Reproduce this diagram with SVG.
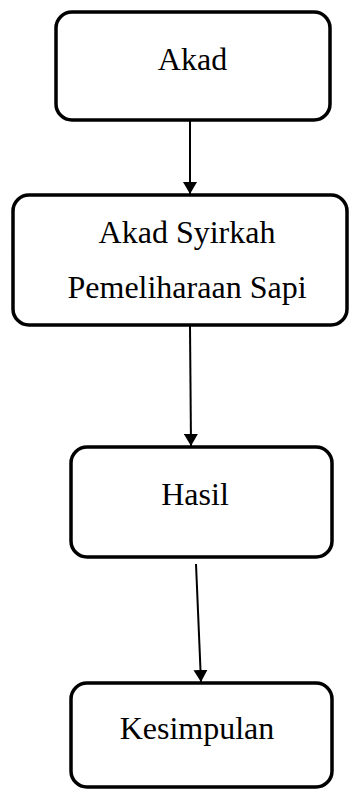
<svg xmlns="http://www.w3.org/2000/svg" width="349" height="789" viewBox="0 0 349 789">
<style>
.box{fill:#fff;stroke:#000;stroke-width:3.5}
.lbl{font-family:"Liberation Serif","Times New Roman",serif;font-size:32px;fill:#000;text-anchor:middle}
.edge{stroke:#000;stroke-width:2;fill:none}
</style>
<defs>
<marker id="ah" markerWidth="12" markerHeight="14" refX="12" refY="7" orient="auto" markerUnits="userSpaceOnUse" viewBox="0 0 12 14">
<path d="M0,0 L12,7 L0,14 Z" fill="#000"/>
</marker>
</defs>
<g id="connectors">
<line class="edge" x1="190" y1="121" x2="190" y2="194" marker-end="url(#ah)"/>
<line class="edge" x1="190" y1="326" x2="191" y2="446" marker-end="url(#ah)"/>
<line class="edge" x1="196" y1="564" x2="201" y2="682" marker-end="url(#ah)"/>
</g>
<g id="node-akad">
<rect class="box" x="56" y="12" width="274" height="108" rx="16"/>
<text class="lbl" x="192.5" y="70">Akad</text>
</g>
<g id="node-syirkah">
<rect class="box" x="13" y="195" width="334" height="130" rx="16"/>
<text class="lbl" x="187" y="243">Akad Syirkah</text>
<text class="lbl" x="187" y="298">Pemeliharaan Sapi</text>
</g>
<g id="node-hasil">
<rect class="box" x="71" y="447" width="261" height="110" rx="16"/>
<text class="lbl" x="195" y="505">Hasil</text>
</g>
<g id="node-kesimpulan">
<rect class="box" x="71" y="683" width="261" height="104" rx="16"/>
<text class="lbl" x="197" y="739">Kesimpulan</text>
</g>
</svg>
